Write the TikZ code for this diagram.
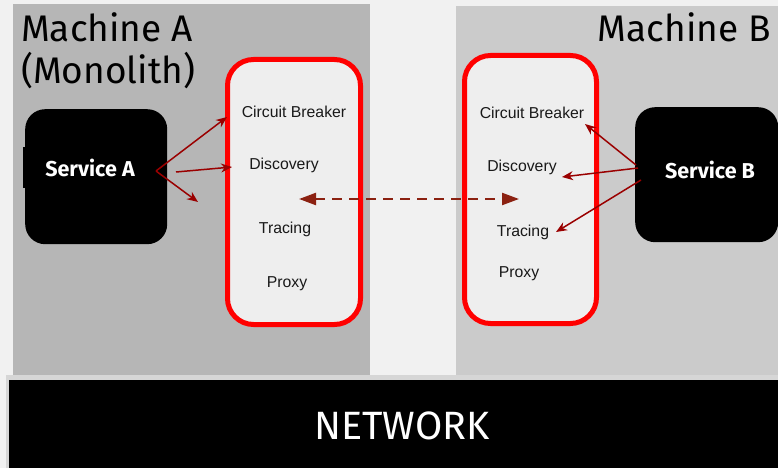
\documentclass[tikz,border=0pt]{standalone}
\usepackage{fontspec}
\setmainfont{Liberation Sans}
\newfontfamily\titlefont{Fira Sans}
\usetikzlibrary{arrows.meta}
\definecolor{bgc}{HTML}{F1F1F1}
\definecolor{panA}{HTML}{B6B6B6}
\definecolor{panB}{HTML}{CBCBCB}
\definecolor{sidefill}{HTML}{EEEEEE}
\definecolor{arr}{HTML}{9A0000}
\definecolor{darr}{HTML}{8B2111}
\definecolor{netedge}{HTML}{D6D6D6}
\tikzset{
  title/.style={font=\titlefont\fontsize{37}{40}\selectfont, inner sep=0pt, text=black},
  service/.style={fill=black, rounded corners=20pt, draw=none},
  svctext/.style={font=\titlefont\bfseries\fontsize{21.5}{24}\selectfont, text=white, inner sep=0pt},
  sidecar/.style={draw=red, line width=5pt, fill=sidefill, rounded corners=26pt},
  lbl/.style={font=\fontsize{15.8}{18}\selectfont, inner sep=0pt, text=black!90},
  callarrow/.style={draw=arr, line width=1.5pt, -{Stealth[length=11pt,width=9pt]}},
  netarrow/.style={draw=darr, line width=2.2pt, dash pattern=on 10pt off 7pt, {Triangle[length=17pt,width=12pt]}-{Triangle[length=17pt,width=12pt]}}
}
\begin{document}
\begin{tikzpicture}[x=1pt,y=-1pt]
\fill[bgc] (0,0) rectangle (778,468);
\useasboundingbox (0,0) rectangle (778,468);
% machine panels
\fill[panA] (13,4) rectangle (370,376);
\fill[panB] (456,6) rectangle (778,376);
\node[title, anchor=base west] (tA) at (21,42) {Machine A};
\node[title, anchor=base west] (tA2) at (21,84) {(Monolith)};
\node[title, anchor=base east] (tB) at (771,42) {Machine B};
% network
\fill[netedge] (6,375) rectangle (778,468);
\node[fill=black, minimum width=769pt, minimum height=88pt, anchor=north west, inner sep=0pt] (net) at (9,380) {};
\node[font=\titlefont\fontsize{39.5}{42}\selectfont, text=white, inner sep=0pt, anchor=base] (nett) at (402,439) {NETWORK};
% services
\node[service, minimum width=142pt, minimum height=135pt, anchor=north west] (svcA) at (25,109) {};
\fill[black] (23,147) rectangle (30,188);
\node[svctext] (svcAt) at (90,168) {Service A};
\node[service, minimum width=143pt, minimum height=135pt, anchor=north west] (svcB) at (635,107) {};
\node[svctext] (svcBt) at (710,170) {Service B};
% sidecars
\node[sidecar, minimum width=133pt, minimum height=265pt, anchor=north west] (scA) at (225,57) {};
\node[sidecar, minimum width=132pt, minimum height=268pt, anchor=north west] (scB) at (462,53) {};
% labels A
\node[lbl] (cbA) at (294,112) {Circuit Breaker};
\node[lbl] (dA) at (284,165) {Discovery};
\node[lbl] (trA) at (285,229) {Tracing};
\node[lbl] (pA) at (287,284) {Proxy};
% labels B
\node[lbl] (cbB) at (532,113) {Circuit Breaker};
\node[lbl] (dB) at (522,167) {Discovery};
\node[lbl] (trB) at (523,232) {Tracing};
\node[lbl] (pB) at (519,274) {Proxy};
% arrow coordinates
\coordinate (a0) at (156,171);
\coordinate (a0b) at (176,172);
\coordinate (a1) at (227,117);
\coordinate (a2) at (232,167);
\coordinate (a3) at (198,202);
\coordinate (b0) at (636,165);
\coordinate (b0b) at (638,168);
\coordinate (b0c) at (641,180);
\coordinate (b1) at (585,124);
\coordinate (b2) at (562,177);
\coordinate (b3) at (556,232);
\coordinate (dl) at (299,199);
\coordinate (dr) at (519,199);
\draw[callarrow] (a0) -- (a1);
\draw[callarrow] (a0b) -- (a2);
\draw[callarrow] (a0) -- (a3);
\draw[callarrow] (b0) -- (b1);
\draw[callarrow] (b0b) -- (b2);
\draw[callarrow] (b0c) -- (b3);
\draw[netarrow] (dl) -- (dr);
\end{tikzpicture}
\end{document}
